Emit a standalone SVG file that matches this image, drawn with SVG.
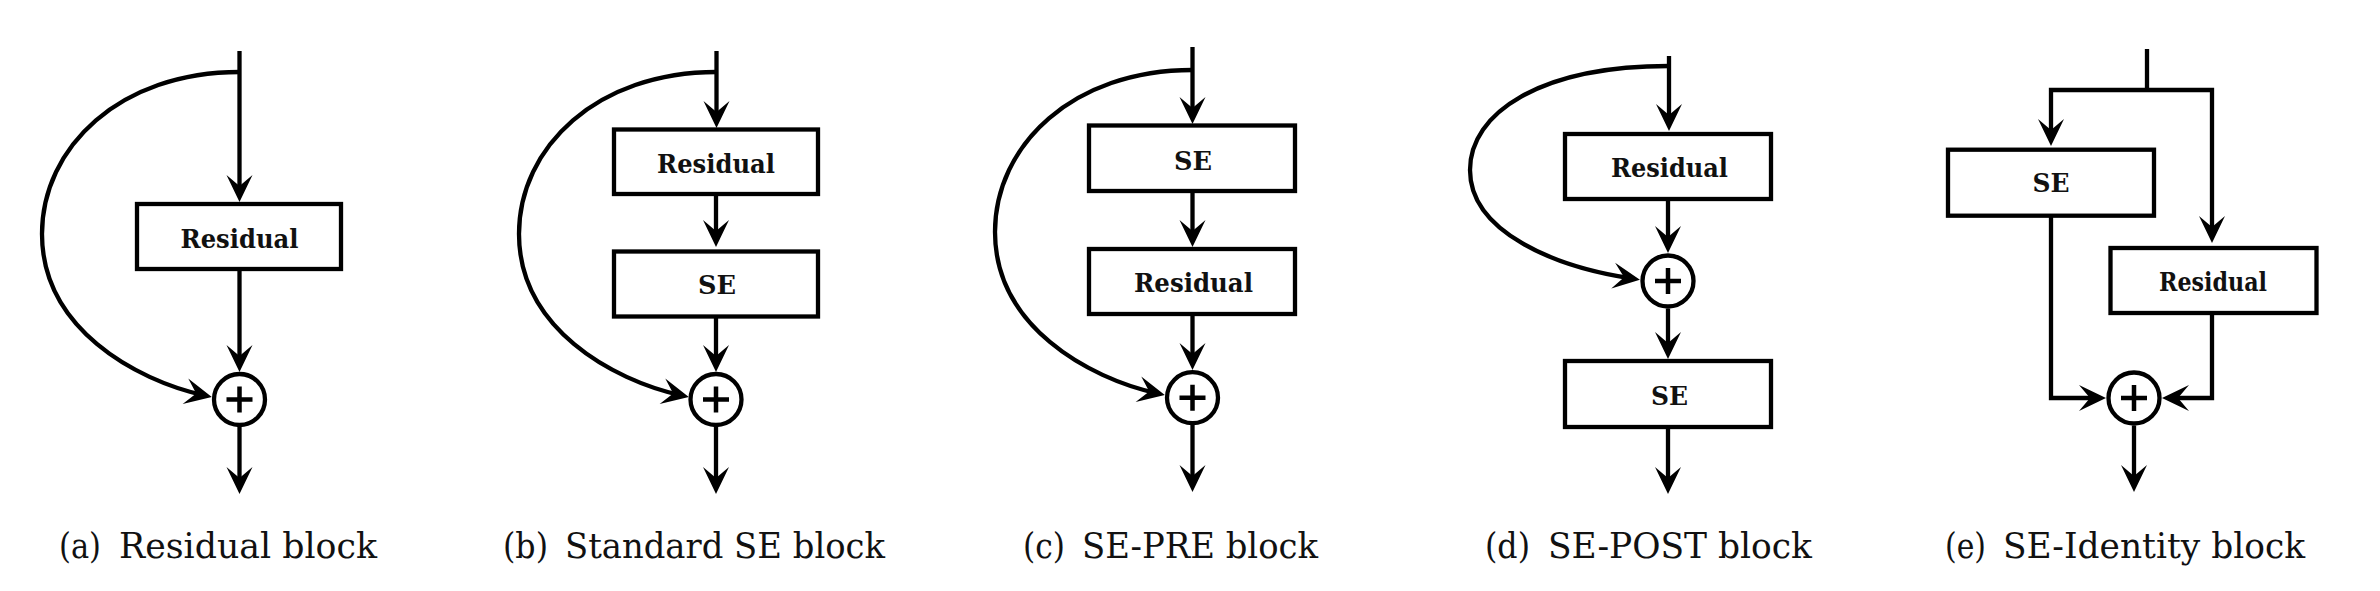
<svg xmlns="http://www.w3.org/2000/svg" width="2380" height="591" viewBox="0 0 2380 591">
<style>
.ln{fill:none;stroke:#000;stroke-width:4.3;stroke-linejoin:miter}
.ar{marker-end:url(#arr)}
.bx{fill:#fff;stroke:#000;stroke-width:4.3}
.sum{fill:#fff;stroke:#000;stroke-width:4.3}
.pl{stroke:#000;stroke-width:4.5;fill:none}
.lb{font-family:"DejaVu Serif","Liberation Serif",serif;font-weight:bold;font-size:26px;fill:#111;text-anchor:middle}
.cap{font-family:"DejaVu Serif","Liberation Serif",serif;font-size:36px;fill:#111}
</style>
<defs>
<marker id="arr" markerUnits="userSpaceOnUse" viewBox="-30 -15 32 30" markerWidth="32" markerHeight="30" refX="-8" refY="0" orient="auto">
<path d="M0,0 L-27,-13 L-16,0 L-27,13 Z" fill="#000"/>
</marker>
<g id="plus"><path class="pl" d="M-13,0 H13 M0,-13 V13"/></g>
</defs>
<rect width="2380" height="591" fill="#fff"/>

<g id="connectors">
<!-- (a) -->
<path class="ln ar" d="M239.5,51 V194"/>
<path class="ln ar" d="M239.5,72 C120,72 42,147 42,234 C42,328 135,380 204,395.3"/>
<path class="ln ar" d="M239.5,269 V364"/>
<path class="ln ar" d="M239.5,427 V486"/>
<!-- (b) -->
<path class="ln ar" d="M716.5,51 V120"/>
<path class="ln ar" d="M716.5,72 C597,72 519,147 519,234 C519,328 612,380 681,395.3"/>
<path class="ln ar" d="M716,194 V239"/>
<path class="ln ar" d="M716,316.5 V364"/>
<path class="ln ar" d="M716,427 V486"/>
<!-- (c) -->
<path class="ln ar" d="M1192.5,47 V116"/>
<path class="ln ar" d="M1192.5,70 C1073,70 995,145 995,232 C995,326 1088,378 1157,393.3"/>
<path class="ln ar" d="M1192.5,191 V239"/>
<path class="ln ar" d="M1192.5,314 V362"/>
<path class="ln ar" d="M1192.5,425 V484"/>
<!-- (d) -->
<path class="ln ar" d="M1669,56 V123"/>
<path class="ln ar" d="M1669,66 C1540,66 1470,113 1470,170 C1470,232 1555,267 1632,278.5"/>
<path class="ln ar" d="M1668,199 V245"/>
<path class="ln ar" d="M1668,308.5 V351"/>
<path class="ln ar" d="M1668,427 V486"/>
<!-- (e) -->
<path class="ln" d="M2147,49 V90"/>
<path class="ln ar" d="M2147,90 H2051 V138"/>
<path class="ln ar" d="M2147,90 H2212 V235"/>
<path class="ln ar" d="M2051,215.7 V398 H2098"/>
<path class="ln ar" d="M2212,313 V398 H2170"/>
<path class="ln ar" d="M2134,425.5 V484"/>
</g>

<!-- (a) nodes -->
<g id="a-residual"><rect class="bx" x="137" y="204" width="204" height="65"/><text class="lb" x="239.5" y="248" textLength="118" lengthAdjust="spacingAndGlyphs">Residual</text></g>
<g id="a-sum"><circle class="sum" cx="239.5" cy="399.5" r="25.5"/><use href="#plus" x="239.5" y="399.5"/></g>

<!-- (b) nodes -->
<g id="b-residual"><rect class="bx" x="614" y="129.5" width="204" height="64.5"/><text class="lb" x="716" y="173" textLength="118" lengthAdjust="spacingAndGlyphs">Residual</text></g>
<g id="b-se"><rect class="bx" x="614" y="251.5" width="204" height="65"/><text class="lb" x="717" y="294" textLength="38" lengthAdjust="spacingAndGlyphs">SE</text></g>
<g id="b-sum"><circle class="sum" cx="716" cy="399.5" r="25.5"/><use href="#plus" x="716" y="399.5"/></g>

<!-- (c) nodes -->
<g id="c-se"><rect class="bx" x="1089" y="125.5" width="206" height="65.5"/><text class="lb" x="1193" y="169.5" textLength="38" lengthAdjust="spacingAndGlyphs">SE</text></g>
<g id="c-residual"><rect class="bx" x="1089" y="249" width="206" height="65"/><text class="lb" x="1193.5" y="292" textLength="119" lengthAdjust="spacingAndGlyphs">Residual</text></g>
<g id="c-sum"><circle class="sum" cx="1192.5" cy="397.7" r="25.5"/><use href="#plus" x="1192.5" y="397.7"/></g>

<!-- (d) nodes -->
<g id="d-residual"><rect class="bx" x="1565" y="134" width="206" height="65"/><text class="lb" x="1669.5" y="177" textLength="117" lengthAdjust="spacingAndGlyphs">Residual</text></g>
<g id="d-sum"><circle class="sum" cx="1668" cy="281" r="25.5"/><use href="#plus" x="1668" y="281"/></g>
<g id="d-se"><rect class="bx" x="1565" y="361" width="206" height="66"/><text class="lb" x="1669.5" y="405" textLength="37" lengthAdjust="spacingAndGlyphs">SE</text></g>

<!-- (e) nodes -->
<g id="e-se"><rect class="bx" x="1948" y="149.7" width="206" height="66"/><text class="lb" x="2051" y="191.5" textLength="37" lengthAdjust="spacingAndGlyphs">SE</text></g>
<g id="e-residual"><rect class="bx" x="2110.5" y="248" width="206" height="65"/><text class="lb" x="2213" y="290.5" textLength="108" lengthAdjust="spacingAndGlyphs">Residual</text></g>
<g id="e-sum"><circle class="sum" cx="2134" cy="398" r="25.5"/><use href="#plus" x="2134" y="398"/></g>

<!-- captions -->
<g id="captions">
<text class="cap" y="557.5"><tspan x="59" textLength="42" lengthAdjust="spacingAndGlyphs">(a)</tspan><tspan x="119" textLength="258" lengthAdjust="spacingAndGlyphs">Residual block</tspan></text>
<text class="cap" y="557.5"><tspan x="503" textLength="45" lengthAdjust="spacingAndGlyphs">(b)</tspan><tspan x="565" textLength="320" lengthAdjust="spacingAndGlyphs">Standard SE block</tspan></text>
<text class="cap" y="557.5"><tspan x="1023" textLength="42" lengthAdjust="spacingAndGlyphs">(c)</tspan><tspan x="1082" textLength="236" lengthAdjust="spacingAndGlyphs">SE-PRE block</tspan></text>
<text class="cap" y="557.5"><tspan x="1485" textLength="45" lengthAdjust="spacingAndGlyphs">(d)</tspan><tspan x="1548" textLength="264" lengthAdjust="spacingAndGlyphs">SE-POST block</tspan></text>
<text class="cap" y="557.5"><tspan x="1945" textLength="41" lengthAdjust="spacingAndGlyphs">(e)</tspan><tspan x="2003" textLength="302" lengthAdjust="spacingAndGlyphs">SE-Identity block</tspan></text>
</g>
</svg>
